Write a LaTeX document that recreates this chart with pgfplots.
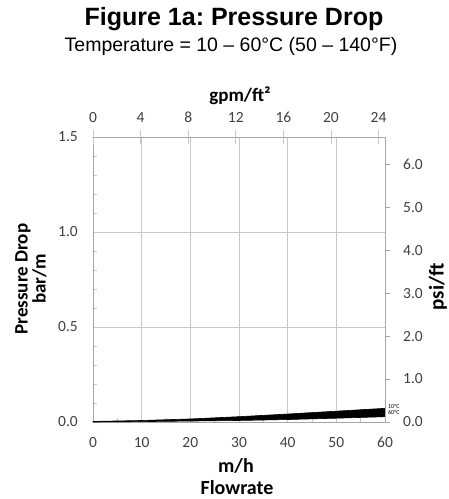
\documentclass[border=0pt]{standalone}
\usepackage{fontspec}
\setmainfont{Carlito}
\newfontfamily\arialfont{Liberation Sans}
\usepackage{pgfplots}
\pgfplotsset{compat=1.18}
\frenchspacing

\definecolor{gridgray}{HTML}{C8C8C8}
\definecolor{axisgray}{HTML}{A6A6A6}
\definecolor{ticktext}{HTML}{404040}

\begin{document}
\begin{tikzpicture}[x=1pt,y=1pt]
\useasboundingbox (0,0) rectangle (449,499);

% titles
\node[anchor=base, font=\arialfont\bfseries\fontsize{25}{28}\selectfont] at (234,473) {Figure 1a: Pressure Drop};
\node[anchor=base, font=\arialfont\fontsize{19.5}{23}\selectfont] at (231,447) {Temperature = 10 – 60°C (50 – 140°F)};

% main axis: m/h vs bar/m
\begin{axis}[
    at={(93pt,77pt)}, anchor=south west,
    scale only axis, width=292pt, height=285pt,
    xmin=0, xmax=60, ymin=0, ymax=1.5,
    axis x line*=bottom, axis y line*=left,
    axis line style={axisgray, line width=0.8pt},
    xtick={0,10,...,60}, ytick={0,0.5,1.0,1.5},
    minor x tick num=1, minor y tick num=4,
    xmajorgrids, ymajorgrids,
    major grid style={gridgray, line width=0.8pt},
    tick align=inside,
    major tick length=0pt, minor tick length=4pt,
    minor tick style={gridgray, line width=0.6pt},
    /pgf/number format/assume math mode=true,
    yticklabel style={/pgf/number format/fixed, /pgf/number format/fixed zerofill, /pgf/number format/precision=1},
    xticklabel style={anchor=base, yshift=-26pt, inner sep=0pt},
    yticklabel style={anchor=east, xshift=-15pt, inner sep=0pt},
    ticklabel style={font=\fontsize{15.5}{17}\selectfont, text=ticktext},
    clip=false,
]
\addplot[fill=black, draw=black, line width=0.6pt] coordinates {
    (0,0.003) (10,0.008) (20,0.016) (30,0.028) (40,0.042) (50,0.057) (60,0.072)
    (60,0.028) (50,0.020) (40,0.013) (30,0.008) (20,0.005) (10,0.002) (0,0)
} -- cycle;
\end{axis}

% top axis: gpm/ft2
\begin{axis}[
    at={(93pt,77pt)}, anchor=south west,
    scale only axis, width=292pt, height=285pt,
    xmin=0, xmax=24.54, ymin=0, ymax=1,
    axis x line*=top, hide y axis,
    axis line style={axisgray, line width=0.8pt},
    xtick={0,4,...,24},
    tick align=center, major tick length=14pt,
    tick style={gridgray, line width=0.8pt},
    /pgf/number format/assume math mode=true,
    xticklabel style={anchor=base, yshift=7pt, inner sep=0pt,
        font=\fontsize{15.5}{17}\selectfont, text=ticktext},
]
\addplot[draw=none] coordinates {(0,0) (24.54,1)};
\end{axis}

% right axis: psi/ft
\begin{axis}[
    at={(93pt,77pt)}, anchor=south west,
    scale only axis, width=292pt, height=285pt,
    xmin=0, xmax=1, ymin=0, ymax=6.631,
    axis y line*=right, hide x axis,
    axis line style={axisgray, line width=0.8pt},
    ytick={0,1,...,6},
    tick align=outside, major tick length=5pt,
    tick style={axisgray, line width=0.8pt},
    /pgf/number format/assume math mode=true,
    yticklabel style={/pgf/number format/fixed, /pgf/number format/fixed zerofill, /pgf/number format/precision=1},
    yticklabel style={anchor=west, xshift=13pt, inner sep=0pt,
        font=\fontsize{15.5}{17}\selectfont, text=ticktext},
]
\addplot[draw=none] coordinates {(0,0) (1,6.631)};
\end{axis}

% axis labels
\node[anchor=base, font=\bfseries\fontsize{19}{21}\selectfont] at (240,397) {gpm/ft²};
\node[anchor=base, font=\bfseries\fontsize{20}{22}\selectfont] at (236,27) {m/h};
\node[anchor=base, font=\bfseries\fontsize{20}{22}\selectfont] at (237,5) {Flowrate};
\node[rotate=90, align=center, font=\bfseries\fontsize{19}{18}\selectfont] at (31,220) {Pressure Drop\\bar/m};
\node[rotate=90, font=\bfseries\fontsize{21}{23}\selectfont] at (438,212) {psi/ft};

% curve labels
\node[anchor=base west, inner sep=0pt, font=\fontsize{6}{7}\selectfont] at (388,90) {10°C};
\node[anchor=base west, inner sep=0pt, font=\fontsize{6}{7}\selectfont] at (388,84.5) {60°C};
\end{tikzpicture}
\end{document}
